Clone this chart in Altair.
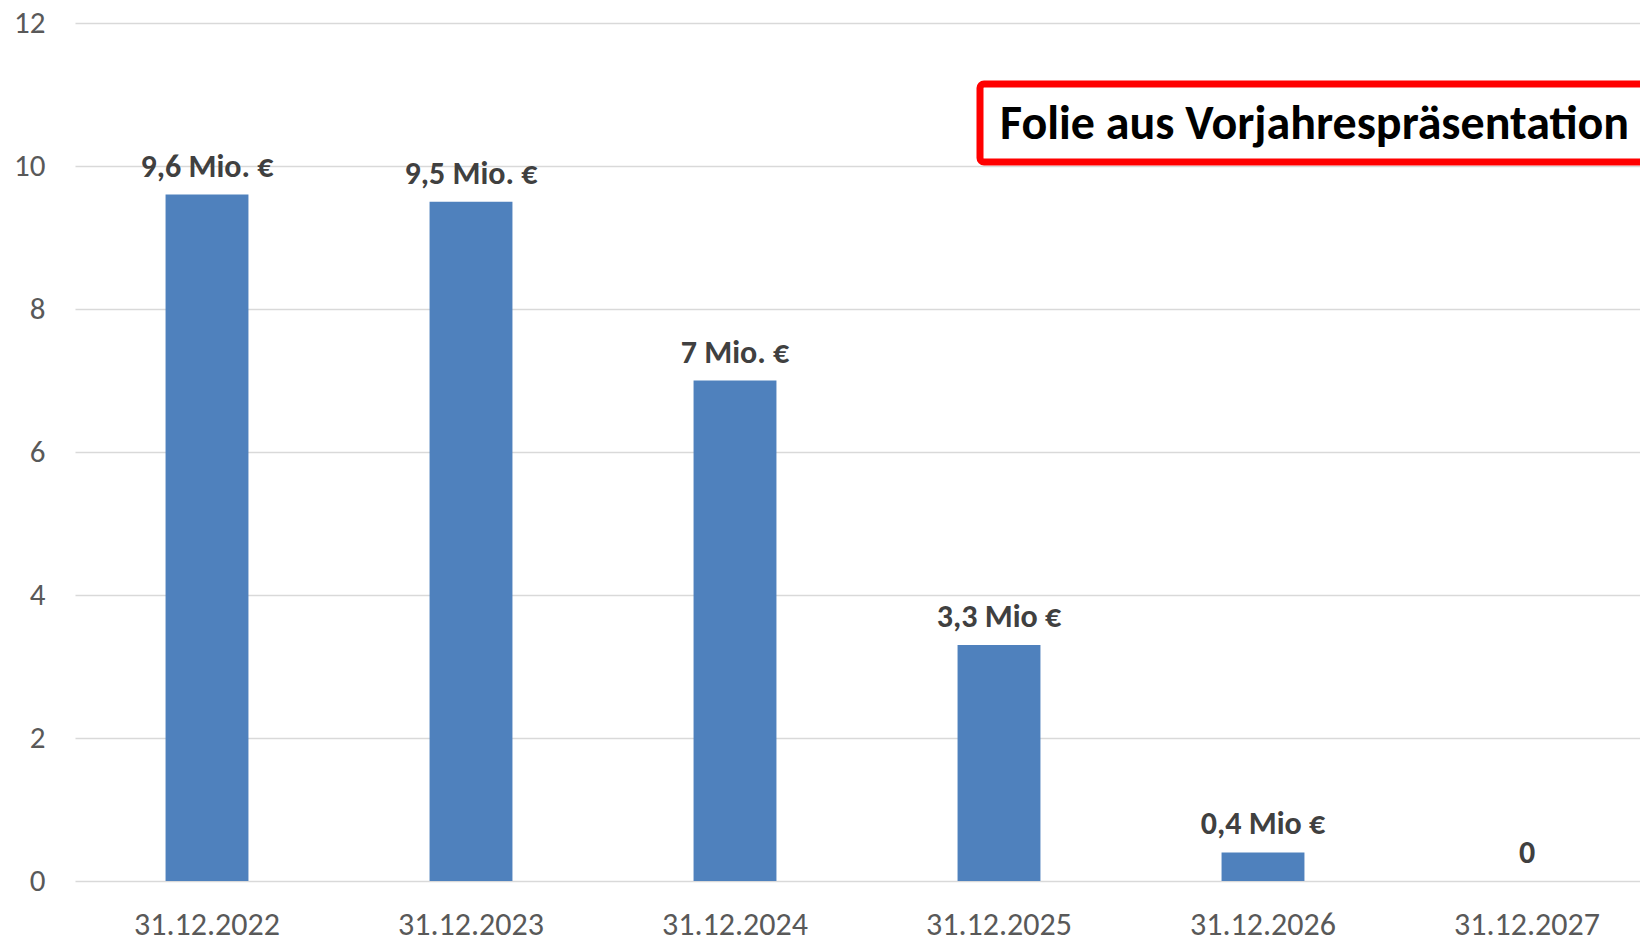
import altair as alt
import pandas as pd

categories = ["31.12.2022", "31.12.2023", "31.12.2024", "31.12.2025", "31.12.2026", "31.12.2027"]
values = [9.6, 9.5, 7.0, 3.3, 0.4, 0.0]
value_labels = ["9,6 Mio. €", "9,5 Mio. €", "7 Mio. €", "3,3 Mio €", "0,4 Mio €", "0"]
y_ticks = [0, 2, 4, 6, 8, 10, 12]
note_text = "Folie aus Vorjahrespräsentation"

df = pd.DataFrame({"Datum": categories, "Wert": values, "Label": value_labels})

FONT = "Carlito, Calibri, Lato, sans-serif"
W, H = 1565, 858

x = alt.X("Datum:N", sort=categories, title=None,
          scale=alt.Scale(range=[0, 1584], paddingInner=0, paddingOuter=0),
          axis=alt.Axis(labelAngle=0, ticks=False, tickSize=0, domain=False, grid=False,
                        labelFont=FONT, labelFontSize=32, labelColor="#595959",
                        labelBaseline="middle", labelPadding=43))
y = alt.Y("Wert:Q", title=None,
          scale=alt.Scale(domain=[0, 12], nice=False, zero=True),
          axis=alt.Axis(values=y_ticks, ticks=False, tickSize=0, domain=False,
                        grid=True, gridColor="#d9d9d9", gridWidth=1.5,
                        labelFont=FONT, labelFontSize=31, labelColor="#595959",
                        labelPadding=30))

base = alt.Chart(df)
bars = base.mark_bar(color="#4f81bd", width={"band": 0.314}).encode(x=x, y=y)
labels = base.mark_text(font=FONT, fontSize=32, fontWeight="bold", color="#404040",
                        baseline="middle", dy=-28).encode(x=x, y=y, text="Label:N")

box = alt.Chart(pd.DataFrame({"t": [note_text]})).mark_rect(
    fill="white", stroke="#ff0000", strokeWidth=7, cornerRadius=4
).encode(x=alt.value(905), x2=alt.value(1700), y=alt.value(61), y2=alt.value(139))
note = alt.Chart(pd.DataFrame({"t": [note_text]})).mark_text(
    font=FONT, fontSize=48, fontWeight="bold", color="#000000", align="left", baseline="middle"
).encode(x=alt.value(925), y=alt.value(102), text="t:N")

chart = alt.layer(bars, labels, box, note).properties(
    width=W, height=H,
    autosize=alt.AutoSizeParams(type="none"),
    padding={"left": 67, "top": 15, "right": 0, "bottom": 57},
).configure_view(stroke=None)

chart.save("out.html", embed_options={"renderer": "svg", "actions": False})
